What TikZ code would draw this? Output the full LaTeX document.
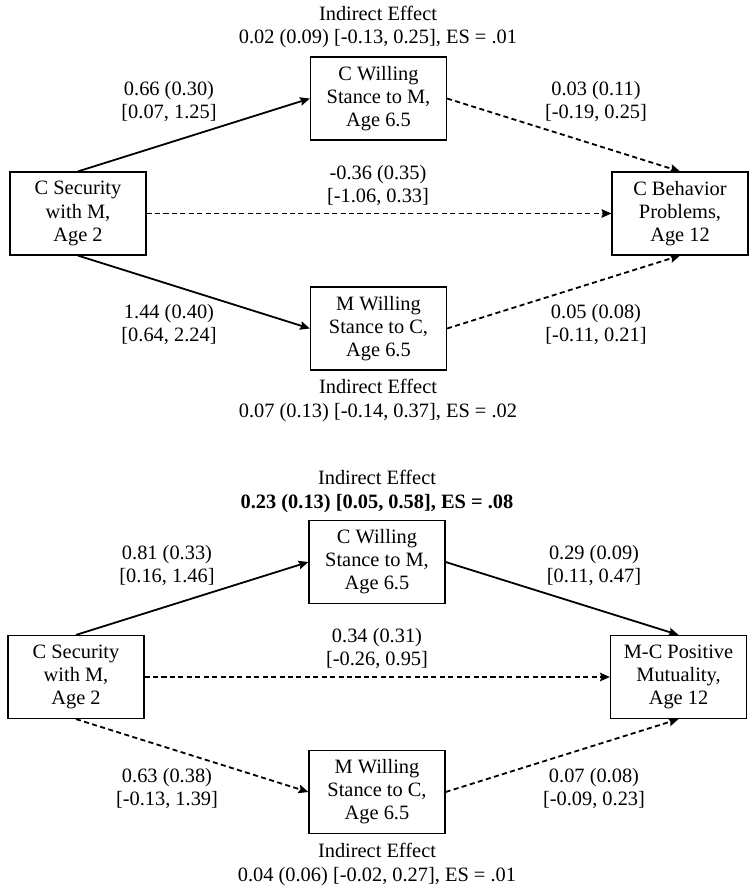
\documentclass[tikz,border=0pt]{standalone}
\usepackage{fontspec}
\setmainfont{Liberation Serif}
\usetikzlibrary{shapes.geometric, arrows.meta}
\tikzstyle{varbox} = [rectangle, minimum width=3.4cm, minimum height=2.075cm,
                      text centered, align=center, draw=black, fill=white,
                      line width=0.3mm, inner sep=1pt]
\tikzstyle{coef} = [align=center, inner sep=0pt]
\tikzstyle{arrow} = [line width=0.45mm,-{Stealth[length=7pt,width=6pt,inset=1pt]}]
\tikzstyle{dasharrow} = [arrow, dash pattern=on 3.6pt off 2.4pt]

\begin{document}
\begin{tikzpicture}[font=\fontsize{14.5}{16.4}\selectfont]
        \useasboundingbox (0,0) rectangle (18.85,-22.375);

        %Upper model
        \node (SecA) [varbox] at (1.95,-5.3375) {C Security\\with M,\\Age 2};
        \node (CWillA) [varbox] at (9.4625,-2.4625) {C Willing\\Stance to M,\\Age 6.5};
        \node (MWillA) [varbox] at (9.4625,-8.2125) {M Willing\\Stance to C,\\Age 6.5};
        \node (BehA) [varbox] at (17.0,-5.3375) {C Behavior\\Problems,\\Age 12};

        %Paths upper model
        \draw [arrow] (SecA.north) -- (CWillA.west);
        \draw [dasharrow] (CWillA.east) -- (BehA.north);
        \draw [dasharrow] (SecA.east) -- (BehA.west);
        \draw [arrow] (SecA.south) -- (MWillA.west);
        \draw [dasharrow] (MWillA.east) -- (BehA.south);

        %Coefficients upper model
        \node (IndTopA) [coef] at (9.45,-0.675) {Indirect Effect\\0.02 (0.09) [-0.13, 0.25], ES = .01};
        \node (aOneA) [coef] at (4.225,-2.5375) {0.66 (0.30)\\{[0.07, 1.25]}};
        \node (bOneA) [coef] at (14.9,-2.5375) {0.03 (0.11)\\{[-0.19, 0.25]}};
        \node (cA) [coef] at (9.45,-4.6375) {-0.36 (0.35)\\{[-1.06, 0.33]}};
        \node (aTwoA) [coef] at (4.225,-8.1125) {1.44 (0.40)\\{[0.64, 2.24]}};
        \node (bTwoA) [coef] at (14.9,-8.1125) {0.05 (0.08)\\{[-0.11, 0.21]}};
        \node (IndBotA) [coef] at (9.45,-10.0125) {Indirect Effect\\0.07 (0.13) [-0.14, 0.37], ES = .02};

        %Lower model
        \node (SecB) [varbox] at (1.9,-16.925) {C Security\\with M,\\Age 2};
        \node (CWillB) [varbox] at (9.425,-14.05) {C Willing\\Stance to M,\\Age 6.5};
        \node (MWillB) [varbox] at (9.425,-19.8) {M Willing\\Stance to C,\\Age 6.5};
        \node (MutB) [varbox] at (16.9625,-16.925) {M-C Positive\\Mutuality,\\Age 12};

        %Paths lower model
        \draw [arrow] (SecB.north) -- (CWillB.west);
        \draw [arrow] (CWillB.east) -- (MutB.north);
        \draw [dasharrow] (SecB.east) -- (MutB.west);
        \draw [dasharrow] (SecB.south) -- (MWillB.west);
        \draw [dasharrow] (MWillB.east) -- (MutB.south);

        %Coefficients lower model
        \node (IndTopB) [coef] at (9.425,-12.2875) {Indirect Effect\\\textbf{0.23 (0.13) [0.05, 0.58], ES = .08}};
        \node (aOneB) [coef] at (4.175,-14.1375) {0.81 (0.33)\\{[0.16, 1.46]}};
        \node (bOneB) [coef] at (14.85,-14.1375) {0.29 (0.09)\\{[0.11, 0.47]}};
        \node (cB) [coef] at (9.425,-16.2125) {0.34 (0.31)\\{[-0.26, 0.95]}};
        \node (aTwoB) [coef] at (4.175,-19.7125) {0.63 (0.38)\\{[-0.13, 1.39]}};
        \node (bTwoB) [coef] at (14.85,-19.7125) {0.07 (0.08)\\{[-0.09, 0.23]}};
        \node (IndBotB) [coef] at (9.425,-21.6125) {Indirect Effect\\0.04 (0.06) [-0.02, 0.27], ES = .01};

    \end{tikzpicture}
\end{document}
